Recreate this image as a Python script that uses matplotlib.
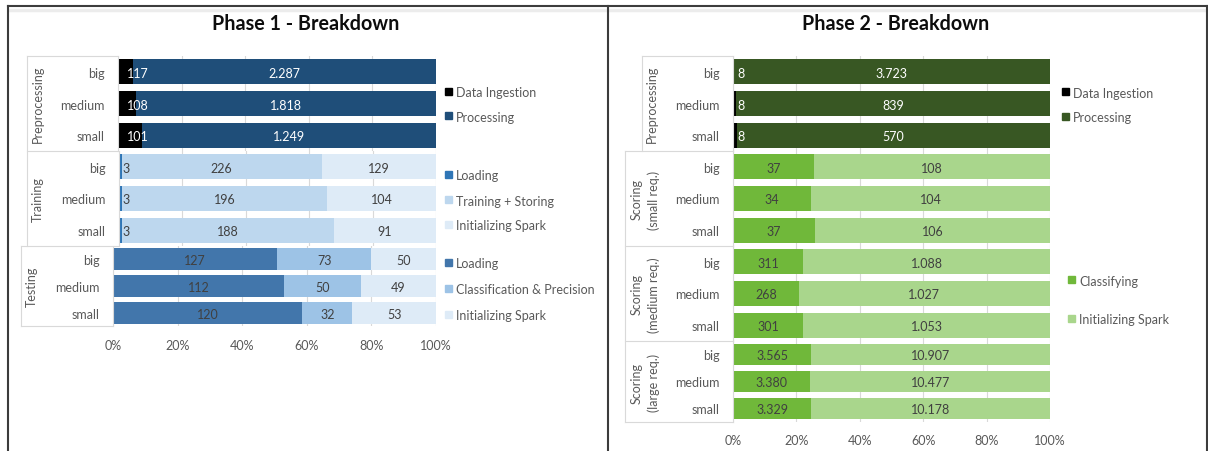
import matplotlib
matplotlib.use("Agg")
import matplotlib.pyplot as plt
from matplotlib.patches import Rectangle
from matplotlib.lines import Line2D

# ---------------------------------------------------------------- data
sizes = ["big", "medium", "small"]
tick_values = [0.0, 0.2, 0.4, 0.6, 0.8, 1.0]
tick_labels = ["0%", "20%", "40%", "60%", "80%", "100%"]

# Phase 1
p1_pre_ingest = [117, 108, 101]
p1_pre_process = [2287, 1818, 1249]
p1_train_load = [3, 3, 3]
p1_train_store = [226, 196, 188]
p1_train_spark = [129, 104, 91]
p1_test_load = [127, 112, 120]
p1_test_classify = [73, 50, 32]
p1_test_spark = [50, 49, 53]

# Phase 2
p2_pre_ingest = [8, 8, 8]
p2_pre_process = [3723, 839, 570]
p2_small_classify = [37, 34, 37]
p2_small_spark = [108, 104, 106]
p2_medium_classify = [311, 268, 301]
p2_medium_spark = [1088, 1027, 1053]
p2_large_classify = [3565, 3380, 3329]
p2_large_spark = [10907, 10477, 10178]

# ---------------------------------------------------------------- style
W, H, DPI = 1208, 452, 100
plt.rcParams["font.family"] = ["Lato", "DejaVu Sans"]
FS = 9
GREY_TXT = "#595959"
DARK_TXT = "#404040"
LINE = "#d9d9d9"
FRAME = "#3c3c3c"

C_BLACK = "#000000"
C_NAVY = "#1f4e79"
C_BLUE = "#2e75b6"
C_BLUE_L = "#bdd7ee"
C_BLUE_XL = "#deebf7"
C_STEEL = "#4276ab"
C_BLUE_M = "#9dc3e6"
C_GREEN_D = "#385723"
C_GREEN = "#70b83a"
C_GREEN_L = "#a9d68c"

fig = plt.figure(figsize=(W / DPI, H / DPI), dpi=DPI)
fig.patch.set_facecolor("white")


def fx(x):
    return x / W


def fy(y):
    return 1 - y / H


def add_axes_px(x0, y0, x1, y1):
    return fig.add_axes([fx(x0), fy(y1), (x1 - x0) / W, (y1 - y0) / H])


def fmt(v):
    return f"{v:,}".replace(",", ".")


def hline(y, x0, x1, color=LINE, lw=0.8):
    fig.add_artist(Line2D([fx(x0), fx(x1)], [fy(y), fy(y)], color=color,
                          lw=lw, transform=fig.transFigure))


def vline(x, y0, y1, color=LINE, lw=0.8):
    fig.add_artist(Line2D([fx(x), fx(x)], [fy(y0), fy(y1)], color=color,
                          lw=lw, transform=fig.transFigure))


def draw_group(box, series, colors, text_colors, bar_h, first_offset=None,
               show_ticks=False, tick_pad=9):
    x0, y0, x1, y1 = box
    ax = add_axes_px(x0, y0, x1, y1)
    rows = list(range(len(sizes)))
    totals = [sum(s[i] for s in series) for i in rows]
    left = [0.0] * len(rows)
    for k, (vals, col, tc) in enumerate(zip(series, colors, text_colors)):
        widths = [v / t for v, t in zip(vals, totals)]
        ax.barh(rows, widths, left=left, height=bar_h, color=col, zorder=2)
        for i in rows:
            if k == 0 and first_offset is not None:
                ax.annotate(fmt(vals[i]), (left[i], i), xytext=(first_offset, 0),
                            textcoords="offset pixels", ha="left",
                            va="center_baseline", color=tc, fontsize=FS, zorder=3)
            else:
                ax.text(left[i] + widths[i] / 2, i, fmt(vals[i]), ha="center",
                        va="center_baseline", color=tc, fontsize=FS, zorder=3)
        left = [l + w for l, w in zip(left, widths)]
    ax.set_xlim(0, 1)
    ax.set_ylim(len(rows) - 0.5, -0.5)
    ax.set_xticks(tick_values)
    ax.grid(axis="x", color=LINE, lw=0.8, zorder=0)
    ax.set_axisbelow(True)
    for s in ("top", "right", "bottom"):
        ax.spines[s].set_visible(False)
    ax.spines["left"].set_color(LINE)
    ax.spines["left"].set_linewidth(0.8)
    ax.set_yticks(rows)
    ax.set_yticklabels(sizes)
    ax.tick_params(axis="y", length=0, pad=9.5, labelsize=FS, labelcolor=GREY_TXT)
    if show_ticks:
        ax.set_xticklabels(tick_labels)
        ax.tick_params(axis="x", length=0, pad=tick_pad, labelsize=FS,
                       labelcolor=GREY_TXT)
    else:
        ax.tick_params(axis="x", length=0, labelbottom=False)
    ax.set_facecolor("none")
    return ax


def group_label(x, y, text):
    fig.text(fx(x), fy(y), text, rotation=90, ha="center", va="center",
             multialignment="center", linespacing=1.45, fontsize=FS,
             color=GREY_TXT)


def legend_item(x, y, color, text, gap=11):
    fig.add_artist(Rectangle((fx(x), fy(y + 3.5)), 7 / W, 7 / H, color=color,
                             transform=fig.transFigure))
    fig.text(fx(x + gap), fy(y), text, ha="left", va="center_baseline",
             fontsize=FS, color=GREY_TXT)


# ---------------------------------------------------------------- frame
hline(7, 8, 1207, color=FRAME, lw=1.5)
hline(10.5, 9, 1206, color="#ececec", lw=2.5)
vline(8, 7, 452, color=FRAME, lw=1.5)
vline(607.5, 7, 452, color=FRAME, lw=1.5)
vline(1206.5, 7, 452, color=FRAME, lw=1.5)

# ---------------------------------------------------------------- Phase 1
fig.text(fx(306), fy(30), "Phase 1 - Breakdown", ha="center", va="baseline",
         fontsize=14.2, fontweight="bold", color="#0d0d0d")

draw_group((118, 57, 436, 152), [p1_pre_ingest, p1_pre_process],
           [C_BLACK, C_NAVY], ["white", "white"], 0.79, first_offset=9)
draw_group((119, 152, 436, 247), [p1_train_load, p1_train_store, p1_train_spark],
           [C_BLUE, C_BLUE_L, C_BLUE_XL], [DARK_TXT, DARK_TXT, DARK_TXT], 0.78,
           first_offset=3)
draw_group((113, 247, 436, 327), [p1_test_load, p1_test_classify, p1_test_spark],
           [C_STEEL, C_BLUE_M, C_BLUE_XL], [DARK_TXT, DARK_TXT, DARK_TXT], 0.82,
           show_ticks=True, tick_pad=9.5)

hline(57, 27, 118)
hline(152, 27, 118)
hline(247, 21, 119)
hline(327, 21, 113)
vline(27, 57, 247)
vline(21, 247, 327)

group_label(38, 104.5, "Preprocessing")
group_label(38, 199.5, "Training")
group_label(32, 287, "Testing")

legend_item(445, 92, C_BLACK, "Data Ingestion")
legend_item(445, 116.5, C_NAVY, "Processing")
legend_item(445, 175.5, C_BLUE, "Loading")
legend_item(445, 200.5, C_BLUE_L, "Training + Storing")
legend_item(445, 225.5, C_BLUE_XL, "Initializing Spark")
legend_item(445, 263.5, C_STEEL, "Loading")
legend_item(445, 289.5, C_BLUE_M, "Classification & Precision")
legend_item(445, 315, C_BLUE_XL, "Initializing Spark")

# ---------------------------------------------------------------- Phase 2
fig.text(fx(895.5), fy(30), "Phase 2 - Breakdown", ha="center", va="baseline",
         fontsize=14.2, fontweight="bold", color="#0d0d0d")

draw_group((733, 57, 1050, 152), [p2_pre_ingest, p2_pre_process],
           [C_BLACK, C_GREEN_D], ["white", "white"], 0.79, first_offset=4)
draw_group((733, 152, 1050, 247), [p2_small_classify, p2_small_spark],
           [C_GREEN, C_GREEN_L], [DARK_TXT, DARK_TXT], 0.79)
draw_group((733, 247, 1050, 342), [p2_medium_classify, p2_medium_spark],
           [C_GREEN, C_GREEN_L], [DARK_TXT, DARK_TXT], 0.79)
draw_group((733, 342, 1050, 423), [p2_large_classify, p2_large_spark],
           [C_GREEN, C_GREEN_L], [DARK_TXT, DARK_TXT], 0.80,
           show_ticks=True, tick_pad=8.5)

hline(57, 642, 733)
hline(152, 625, 733)
hline(247, 625, 733)
hline(342, 625, 733)
hline(423, 625, 733)
vline(642, 57, 152)
vline(625, 152, 423)

group_label(652, 104, "Preprocessing")
group_label(645, 200, "Scoring\n(small req.)")
group_label(645, 295, "Scoring\n(medium req.)")
group_label(645, 383, "Scoring\n(large req.)")

legend_item(1062, 92.5, C_BLACK, "Data Ingestion")
legend_item(1062, 117.5, C_GREEN_D, "Processing")
legend_item(1068, 280.5, C_GREEN, "Classifying")
legend_item(1068, 319.5, C_GREEN_L, "Initializing Spark")

fig.savefig("out.png", dpi=DPI, facecolor="white")
